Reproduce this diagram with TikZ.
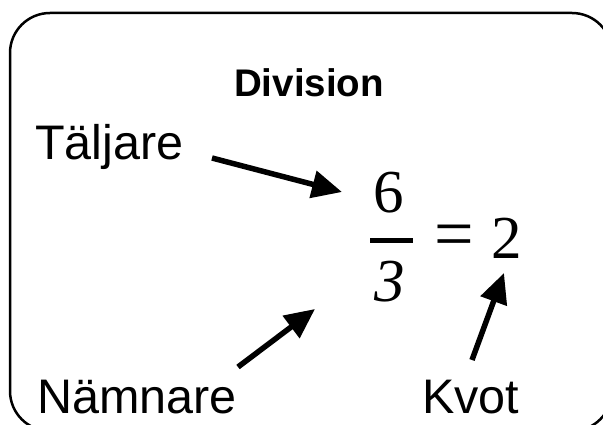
\documentclass[tikz,border=0pt]{standalone}
\usepackage{fontspec}
\setmainfont{Liberation Sans}
\newfontfamily\mathserif{Liberation Serif}
\usetikzlibrary{arrows.meta}
\begin{document}
\begin{tikzpicture}[x=1pt,y=-1pt,
  lbl/.style={inner sep=0pt, anchor=base west, font=\fontsize{48.5}{50}\selectfont},
  mth/.style={inner sep=0pt, font=\fontsize{61}{64}\selectfont\mathserif},
  arr/.style={line width=5.5pt, -{Triangle[length=30pt,width=27pt]}}]
\useasboundingbox (0,0) rectangle (603,425);
\clip (0,0) rectangle (603,425);
\draw[line width=2.5pt, rounded corners=40pt] (10,13) rectangle (612,431);
\node[inner sep=0pt, anchor=base west, font=\fontsize{38.5}{40}\selectfont\bfseries] (div) at (234,97) {Division};
\node[lbl] (tal) at (35,160) {Täljare};
\node[lbl] (nam) at (37,413) {Nämnare};
\node[lbl] (kvot) at (422,413) {Kvot};
\node[mth] (six) at (389,193) {6};
\draw[line width=5pt] (370,241) -- (413,241);
\node[mth] (three) at (390,282) {\itshape 3};
\node[mth] (eq) at (454.5,242) {\scalebox{1.15}[1.2]{=}};
\node[mth] (two) at (507,238) {2};
\coordinate (a1s) at (212,158); \coordinate (a1e) at (342,192);
\coordinate (a2s) at (238,367); \coordinate (a2e) at (315,309);
\coordinate (a3s) at (472,360); \coordinate (a3e) at (504,273);
\draw[arr] (a1s) -- (a1e);
\draw[arr] (a2s) -- (a2e);
\draw[arr] (a3s) -- (a3e);
\end{tikzpicture}
\end{document}
